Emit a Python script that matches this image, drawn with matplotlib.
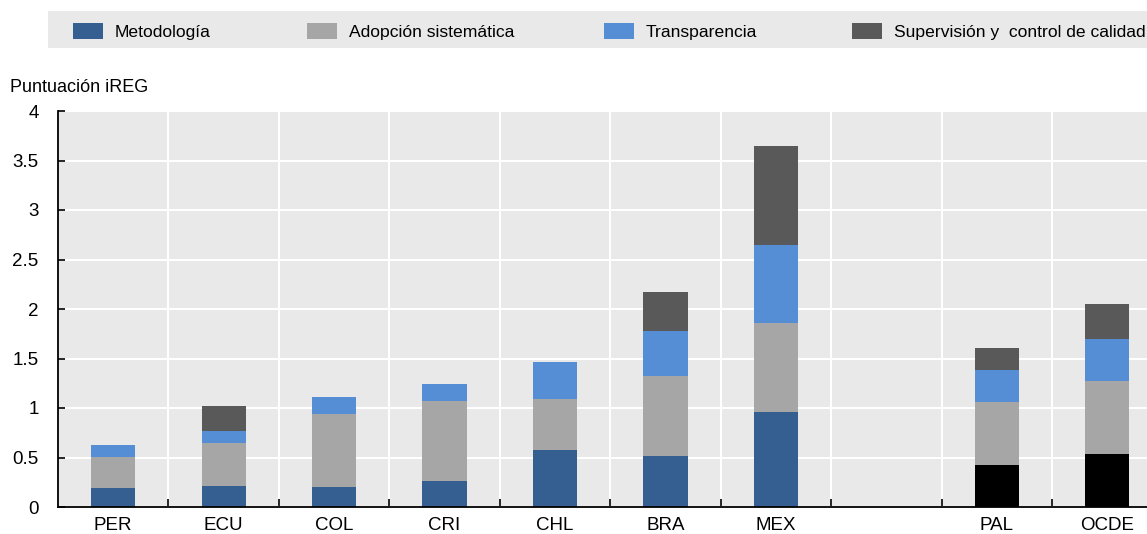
import matplotlib
matplotlib.use("Agg")
import matplotlib.pyplot as plt
from matplotlib import font_manager
from matplotlib.patches import Rectangle

names = {f.name for f in font_manager.fontManager.ttflist}
fam = ['Liberation Sans Narrow', 'Liberation Sans', 'DejaVu Sans']
fam = [f for f in fam if f in names] + ['DejaVu Sans']
plt.rcParams['font.family'] = fam

categories = ["PER", "ECU", "COL", "CRI", "CHL", "BRA", "MEX", "", "PAL", "OCDE"]
metodologia = [0.19, 0.21, 0.20, 0.26, 0.58, 0.52, 0.96, 0, 0.42, 0.54]
adopcion = [0.32, 0.44, 0.74, 0.81, 0.51, 0.80, 0.90, 0, 0.64, 0.73]
transparencia = [0.12, 0.12, 0.17, 0.17, 0.37, 0.46, 0.79, 0, 0.32, 0.43]
supervision = [0.00, 0.25, 0.00, 0.00, 0.00, 0.39, 1.00, 0, 0.23, 0.35]
series_names = ["Metodología", "Adopción sistemática", "Transparencia",
                "Supervisión y  control de calidad"]
yticks = [0, 0.5, 1, 1.5, 2, 2.5, 3, 3.5, 4]
yticklabels = ["0", "0.5", "1", "1.5", "2", "2.5", "3", "3.5", "4"]

c_met = "#365f91"
c_adop = "#a6a6a6"
c_trans = "#558ed5"
c_sup = "#595959"
c_avg = "#000000"
bg = "#e9e9e9"

fig = plt.figure(figsize=(11.47, 5.34), dpi=100)
ax = fig.add_axes([58/1147, 1 - 507/534, (1147-58)/1147, (507-111)/534])
ax.set_facecolor(bg)

x = list(range(len(categories)))
met_colors = [c_avg if c in ("PAL", "OCDE") else c_met for c in categories]
w = 0.4
b1 = metodologia
b2 = [a + b for a, b in zip(b1, adopcion)]
b3 = [a + b for a, b in zip(b2, transparencia)]
ax.bar(x, metodologia, w, color=met_colors, linewidth=0, zorder=3)
ax.bar(x, adopcion, w, bottom=b1, color=c_adop, linewidth=0, zorder=3)
ax.bar(x, transparencia, w, bottom=b2, color=c_trans, linewidth=0, zorder=3)
ax.bar(x, supervision, w, bottom=b3, color=c_sup, linewidth=0, zorder=3)

ax.set_ylim(0, 4)
ax.set_xlim(-0.5, 9.36)
ax.set_yticks(yticks)
ax.set_yticklabels(yticklabels, fontsize=13.5)
ax.set_xticks(x)
ax.set_xticklabels(categories, fontsize=13.5)
ax.tick_params(axis='x', length=0, pad=7)
ax.set_xticks([i + 0.5 for i in range(len(categories) - 1)], minor=True)
ax.tick_params(axis='x', which='minor', direction='in', length=6, width=1.2)
ax.tick_params(axis='y', direction='in', length=5, width=1.2, pad=14)
ax.grid(True, axis='y', color='white', linewidth=1.5, zorder=0)
ax.grid(True, axis='x', which='minor', color='white', linewidth=1.5, zorder=0)
ax.grid(False, axis='x', which='major')
for s in ['top', 'right']:
    ax.spines[s].set_visible(False)
for s in ['left', 'bottom']:
    ax.spines[s].set_linewidth(1.3)
    ax.spines[s].set_zorder(4)

fig.text(10/1147, 1 - 88/534, "Puntuación iREG", fontsize=13, va='center', ha='left')

# legend box
fig.patches.append(Rectangle((48/1147, 1 - 48/534), (1147-48)/1147, 37/534,
                             transform=fig.transFigure, facecolor=bg, edgecolor='none'))
leg_sq = [73, 307, 604, 852]
leg_cols = [c_met, c_adop, c_trans, c_sup]
for xs, col, name in zip(leg_sq, leg_cols, series_names):
    fig.patches.append(Rectangle((xs/1147, 1 - 39/534), 30/1147, 16/534,
                                 transform=fig.transFigure, facecolor=col, edgecolor='none'))
    fig.text((xs + 42)/1147, 1 - 33/534, name, fontsize=12.6, va='center', ha='left')

fig.savefig("out.png", dpi=100)
